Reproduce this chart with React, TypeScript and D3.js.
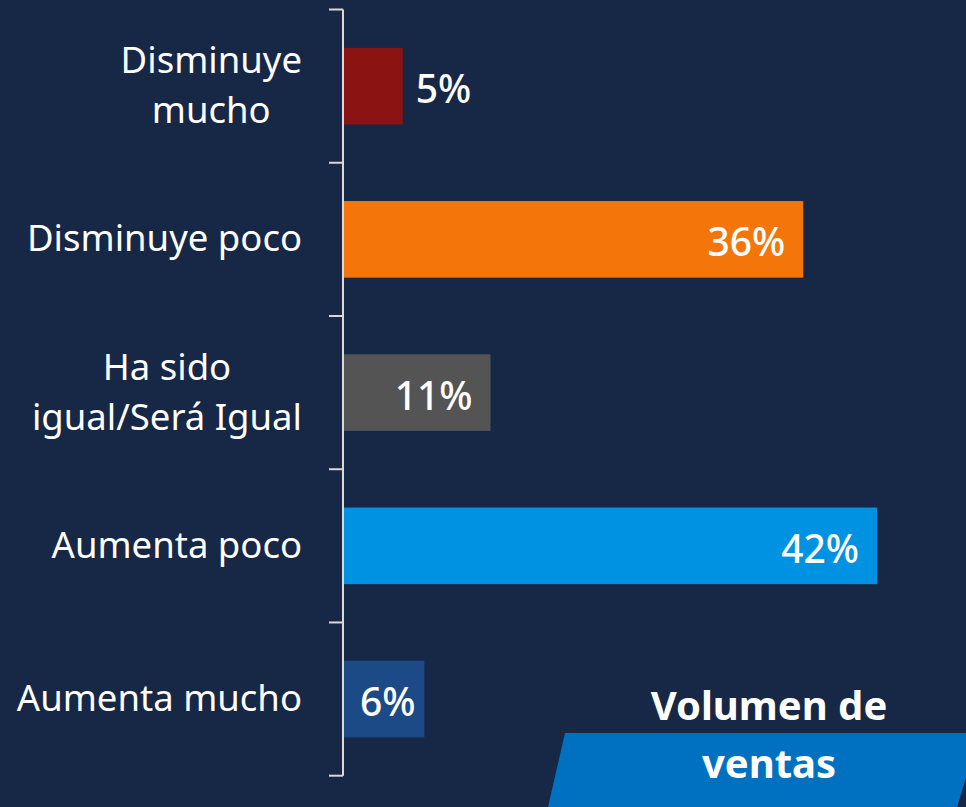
import React, { useEffect, useRef } from 'react';
import * as d3 from 'd3';

const categories = ['Disminuye mucho', 'Disminuye poco', 'Ha sido igual/Será Igual', 'Aumenta poco', 'Aumenta mucho'];
const labelLines = [['Disminuye', 'mucho'], ['Disminuye poco'], ['Ha sido', 'igual/Será Igual'], ['Aumenta poco'], ['Aumenta mucho']];
const values = [4.7, 36.2, 11.6, 42, 6.4];
const valueLabels = ['5%', '36%', '11%', '42%', '6%'];
const barColors = ['#8B1413', '#F4760B', '#545454', '#0092E2', '#1B4A87'];
const titleLines = ['Volumen de', 'ventas'];

const W = 966;
const H = 807;
const FONT = '"Noto Sans", "Open Sans", sans-serif';

const App = () => {
  const svgRef = useRef<SVGSVGElement>(null);

  useEffect(() => {
    document.body.style.margin = '0';
    const svg = d3.select(svgRef.current);
    svg.selectAll('*').remove();

    svg.append('rect').attr('width', W).attr('height', H).attr('fill', '#172746');

    const axisX = 343;
    const x = d3.scaleLinear().domain([0, 42]).range([axisX, 877]);
    const y = d3.scaleBand<string>()
      .domain(categories)
      .range([9.5, 775.7])
      .paddingInner(0.5)
      .paddingOuter(0.25);

    // banner at the bottom right
    svg.append('polygon')
      .attr('points', '565,733 980,733 957,807 548,807')
      .attr('fill', '#0070C0');

    svg.selectAll('.title')
      .data(titleLines)
      .enter().append('text')
      .attr('x', 769)
      .attr('y', (d, i) => 720 + i * 58)
      .attr('text-anchor', 'middle')
      .attr('fill', 'white')
      .attr('font-family', FONT)
      .attr('font-weight', 'bold')
      .attr('font-size', 40)
      .text(d => d);

    // bars
    svg.selectAll('.bar')
      .data(values)
      .enter().append('rect')
      .attr('x', axisX)
      .attr('y', (d, i) => y(categories[i])!)
      .attr('width', d => x(d) - axisX)
      .attr('height', y.bandwidth())
      .attr('fill', (d, i) => barColors[i]);

    // value labels
    svg.selectAll('.val')
      .data(values)
      .enter().append('text')
      .attr('x', (d, i) => {
        const w = x(d) - axisX;
        if (i === 0) return x(d) + 13;
        if (w < 100) return axisX + w / 2 + 4;
        return x(d) - 18;
      })
      .attr('y', (d, i) => y(categories[i])! + y.bandwidth() / 2 + 17)
      .attr('text-anchor', (d, i) => {
        const w = x(d) - axisX;
        if (i === 0) return 'start';
        if (w < 100) return 'middle';
        return 'end';
      })
      .attr('fill', 'white')
      .attr('font-family', FONT)
      .attr('font-size', 39)
      .attr('font-weight', 500)
      .text((d, i) => valueLabels[i]);

    // axis line + ticks at band edges
    const g = svg.append('g');
    const step = y.step();
    const top = 9.5;
    g.append('line')
      .attr('x1', axisX).attr('x2', axisX)
      .attr('y1', top).attr('y2', 775.7)
      .attr('stroke', '#D9D9D9').attr('stroke-width', 2);
    d3.range(categories.length + 1).forEach(i => {
      const ty = i === 0 ? top : Math.min(y(categories[i - 1])! + y.bandwidth() + step * 0.25, 775.7);
      g.append('line')
        .attr('x1', 329).attr('x2', axisX)
        .attr('y1', ty).attr('y2', ty)
        .attr('stroke', '#D9D9D9').attr('stroke-width', 2);
    });

    // category labels, block right-aligned, lines centered
    labelLines.forEach((lines, i) => {
      const cy = y(categories[i])! + y.bandwidth() / 2;
      const grp = svg.append('g');
      const texts = lines.map((ln, j) => grp.append('text')
        .attr('y', cy + 12 + (j - (lines.length - 1) / 2) * 50)
        .attr('fill', 'white')
        .attr('font-family', FONT)
        .attr('font-size', 36.5)
        .attr('text-anchor', 'middle')
        .text(ln));
      const maxW = d3.max(texts, t => (t.node() as SVGTextElement).getComputedTextLength()) || 0;
      texts.forEach(t => t.attr('x', 302 - maxW / 2));
    });
  }, []);

  return <svg ref={svgRef} width={W} height={H} style={{ display: 'block' }}></svg>;
};

export default App;
